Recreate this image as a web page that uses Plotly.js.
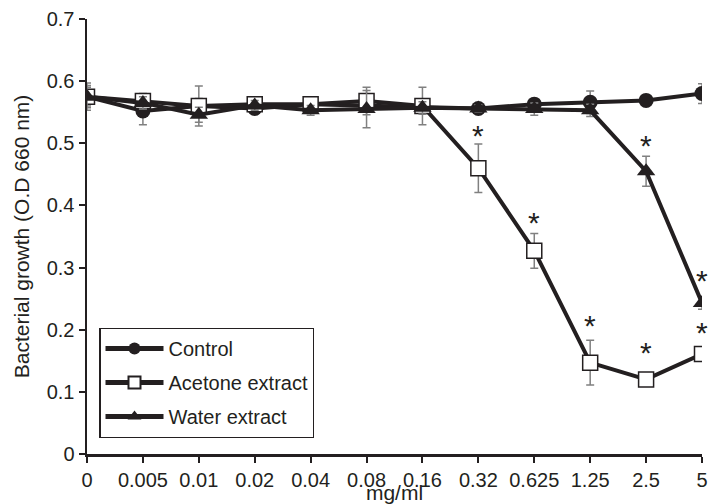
<!DOCTYPE html>
<html>
<head>
<meta charset="utf-8">
<script src="https://cdn.plot.ly/plotly-3.0.1.min.js"></script>
<style>html,body{margin:0;padding:0;background:#fff;}#chart{width:709px;height:504px;}</style>
</head>
<body>
<div id="chart"></div>
<script>
const doses = ["0","0.005","0.01","0.02","0.04","0.08","0.16","0.32","0.625","1.25","2.5","5"];
const control = [0.575,0.552,0.560,0.556,0.563,0.561,0.558,0.556,0.563,0.566,0.569,0.580];
const controlErr = [0.015,0.022,0.012,0.008,0.010,0.010,0.010,0.006,0.008,0.018,0.008,0.016];
const acetone = [0.575,0.568,0.560,0.563,0.563,0.568,0.560,0.460,0.327,0.147,0.120,0.161];
const acetoneErr = [0.022,0.012,0.032,0.008,0.012,0.022,0.030,0.039,0.028,0.036,0.006,0.010];
const water = [0.575,0.565,0.546,0.561,0.553,0.555,0.557,0.556,0.555,0.553,0.455,0.243];
const waterErr = [0.018,0.010,0.012,0.008,0.008,0.030,0.010,0.006,0.010,0.010,0.024,0.010];
// significance marks (*) and the height at which each is drawn (null = none)
const acetoneStarY = [null,null,null,null,null,null,null,0.512,0.373,0.206,0.164,0.195];
const waterStarY = [null,null,null,null,null,null,null,null,null,null,0.497,0.280];

const dark = '#231f20';
const FONT = 'Liberation Sans, Arial, sans-serif';
const errStyle = (arr) => ({type:'data', array:arr, visible:true, color:'#808080', thickness:1.5, width:4});

const traces = [
  {x:doses, y:control, name:'Control', legendgroup:'a', type:'scatter', mode:'lines+markers',
   line:{color:dark, width:4}, marker:{symbol:'circle', size:15, color:dark},
   error_y: errStyle(controlErr)},
  {x:doses, y:acetone, name:'Acetone extract', legendgroup:'b', type:'scatter', mode:'lines+markers',
   line:{color:dark, width:4}, marker:{symbol:'square', size:15, color:'#ffffff', line:{color:dark, width:1.5}},
   error_y: errStyle(acetoneErr)},
  {x:doses, y:water, name:'Water extract', legendgroup:'c', type:'scatter', mode:'lines+markers',
   line:{color:dark, width:4}, marker:{symbol:'triangle-up', size:16, color:dark},
   error_y: errStyle(waterErr)}
];

const annotations = [];
const addStars = (arr) => arr.forEach((v,i)=>{
  if (v !== null) annotations.push({x:i, y:v, xref:'x', yref:'y', text:'*', showarrow:false,
    yanchor:'middle', yshift:0, font:{size:30, color:dark, family:FONT}});
});
addStars(acetoneStarY);
addStars(waterStarY);

const layout = {
  width:709, height:504,
  margin:{l:87, r:7, t:19, b:50},
  paper_bgcolor:'#fff', plot_bgcolor:'#fff',
  font:{family:FONT, size:20, color:dark},
  showlegend:true,
  legend:{x:0.02, y:0.29, xanchor:'left', yanchor:'top', bordercolor:dark, borderwidth:1.2, bgcolor:'#fff',
          font:{size:20, color:dark}, traceorder:'grouped', tracegroupgap:5, itemwidth:58,
          entrywidth:218, itemsizing:'constant'},
  xaxis:{type:'category', range:[0,11], showline:true, linecolor:dark, linewidth:2.5,
         ticks:'outside', ticklen:6, tickwidth:2, tickcolor:dark, showgrid:false, zeroline:false,
         tickfont:{size:20}, title:{text:'mg/ml', font:{size:21}, standoff:0}},
  yaxis:{range:[0,0.7], dtick:0.1, showline:true, linecolor:dark, linewidth:2.5,
         ticks:'outside', ticklen:6, tickwidth:2, tickcolor:dark, showgrid:false, zeroline:false,
         tickfont:{size:20}, title:{text:'Bacterial growth (O.D 660 nm)', font:{size:21}, standoff:12}},
  annotations:annotations
};

Plotly.newPlot('chart', traces, layout, {displayModeBar:false, staticPlot:true});
</script>
</body>
</html>
